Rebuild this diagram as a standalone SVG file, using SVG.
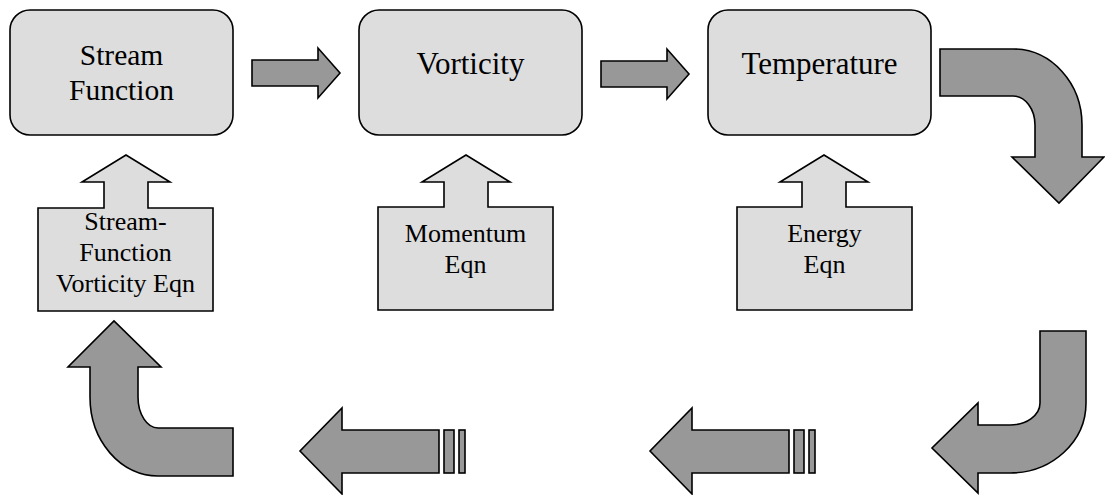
<svg xmlns="http://www.w3.org/2000/svg" width="1105" height="495" viewBox="0 0 1105 495">
<style>
.box{fill:#dddddd;stroke:#000;stroke-width:1.6}
.arr{fill:#989898;stroke:#000;stroke-width:1.6}
</style>
<rect width="1105" height="495" fill="#fff"/>
<g font-family="Liberation Serif" font-size="26" text-anchor="middle" fill="#000">
<g id="stream-function">
<rect class="box" x="10" y="10" width="223" height="125" rx="20" ry="20"/>
<text font-size="29.5" x="121.5" y="65">Stream</text>
<text font-size="29.5" x="121.5" y="100">Function</text>
</g>
<g id="vorticity">
<rect class="box" x="359" y="10" width="223" height="125" rx="20" ry="20"/>
<text font-size="31" x="470.5" y="74">Vorticity</text>
</g>
<g id="temperature">
<rect class="box" x="708" y="10" width="223" height="125" rx="20" ry="20"/>
<text font-size="31" x="819.5" y="74">Temperature</text>
</g>
<g id="sf-vorticity-eqn">
<path class="box" d="M38,208 L104,208 L104,182 L82,182 L126,155 L170,182 L148,182 L148,208 L213,208 L213,311 L38,311 Z"/>
<text x="125.5" y="230">Stream-</text>
<text x="125.5" y="261">Function</text>
<text x="125.5" y="292">Vorticity Eqn</text>
</g>
<g id="momentum-eqn">
<path class="box" d="M378,207 L444,207 L444,182 L422,182 L466,155 L510,182 L488,182 L488,207 L553,207 L553,310 L378,310 Z"/>
<text x="465.5" y="242">Momentum</text>
<text x="465.5" y="273">Eqn</text>
</g>
<g id="energy-eqn">
<path class="box" d="M737,207 L802,207 L802,182 L780,182 L824,155 L868,182 L846,182 L846,207 L912,207 L912,310 L737,310 Z"/>
<text x="824.5" y="242">Energy</text>
<text x="824.5" y="273">Eqn</text>
</g>
</g>
<g id="connectors">
<path class="arr" d="M252,60 L318,60 L318,48 L340,73 L318,98 L318,86 L252,86 Z"/>
<path class="arr" d="M601,61 L667,61 L667,49 L689,74 L667,99 L667,87 L601,87 Z"/>
<path class="arr" d="M940,49 L1013,49 A69 76 0 0 1 1082,125 L1082,157 L1104,157 L1059,203 L1012,157 L1035,157 L1035,125 A22 29 0 0 0 1013,96 L940,96 Z"/>
<path class="arr" d="M1040,331 L1086,331 L1086,403 A76 70 0 0 1 1010,473 L978,473 L978,493 L932,448 L978,403 L978,425 L1010,425 A30 22 0 0 0 1040,403 Z"/>
<path class="arr" d="M789,430 L692,430 L692,408 L650,451 L692,494 L692,473 L789,473 Z"/>
<rect class="arr" x="794" y="430" width="10" height="43"/>
<rect class="arr" x="809" y="430" width="6" height="43"/>
<path class="arr" d="M439,430 L342,430 L342,408 L300,451 L342,494 L342,473 L439,473 Z"/>
<rect class="arr" x="444" y="430" width="10" height="43"/>
<rect class="arr" x="459" y="430" width="6" height="43"/>
<path class="arr" d="M233,428 L233,476 L158,476 A68 79 0 0 1 90,397 L90,367 L68,367 L114,321 L161,367 L138,367 L138,397 A20 31 0 0 0 158,428 Z"/>
</g>
</svg>
